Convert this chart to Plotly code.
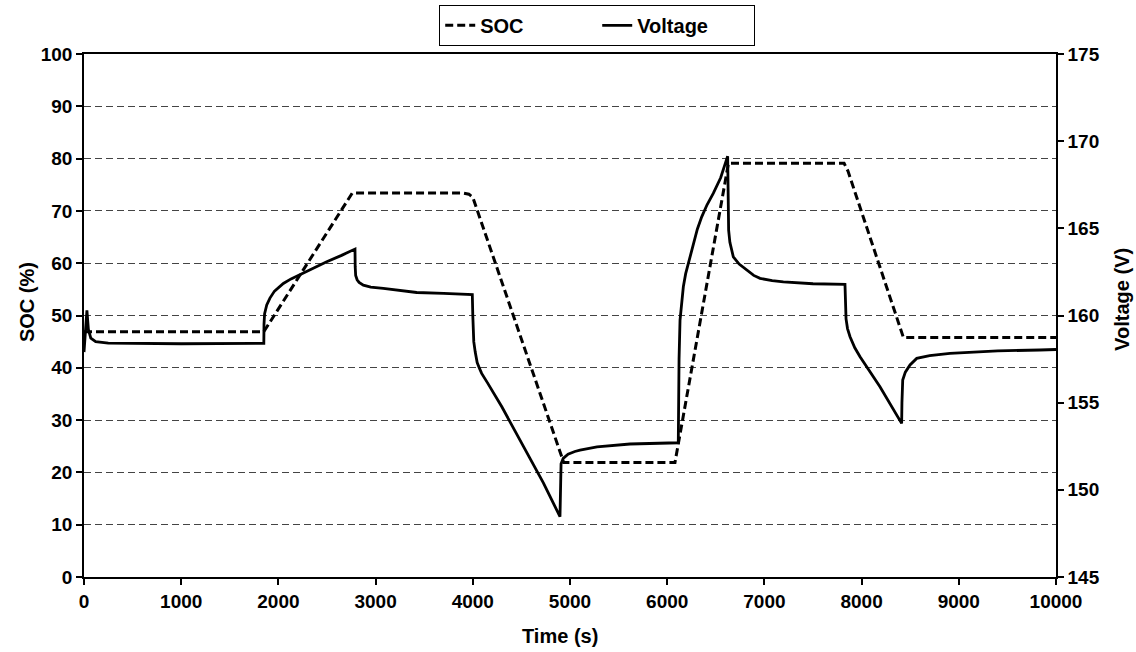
import plotly.graph_objects as go

# State of charge (%) over time (s)
soc_time = [0, 1850, 2760, 3900, 3960, 4000, 4935, 6080, 6630, 7820, 7860, 8430, 10000]
soc_value = [46.9, 46.9, 73.4, 73.4, 73.2, 72.6, 21.9, 21.9, 79.1, 79.1, 77.6, 45.8, 45.8]

# Pack voltage (V) over time (s)
volt_time = [0, 15, 30, 45, 70, 120, 250, 1000, 1845,
             1850, 1852, 1858, 1880, 1913, 1960, 2051, 2130, 2222, 2350, 2497, 2650, 2788,
             2790, 2795, 2810, 2830, 2874, 2950, 3079, 3250, 3423, 3700, 3988,
             3995, 4000, 4003, 4010, 4025, 4045, 4070, 4091, 4150, 4211, 4300, 4383,
             4550, 4726, 4897,
             4900, 4903, 4908, 4930, 4980, 5050, 5103, 5278, 5617, 6114,
             6117, 6122, 6132, 6148, 6166, 6190, 6217, 6245, 6269, 6310, 6355, 6410,
             6474, 6550, 6622,
             6624, 6627, 6632, 6645, 6680, 6740, 6818, 6890, 6955, 7080, 7195, 7500, 7829,
             7833, 7840, 7855, 7881, 7930, 7984, 8189, 8412,
             8415, 8418, 8423, 8450, 8498, 8567, 8700, 8909, 9400, 9835, 10000]
volt_value = [157.9, 159.0, 160.3, 159.2, 158.7, 158.5, 158.42, 158.38, 158.38,
              158.4, 159.5, 160.1, 160.6, 161.0, 161.4, 161.84, 162.1, 162.35, 162.72, 163.08, 163.45, 163.81,
              162.8, 162.3, 162.05, 161.9, 161.74, 161.63, 161.55, 161.42, 161.32, 161.27, 161.23,
              161.2, 160.0, 159.2, 158.5, 157.9, 157.3, 156.95, 156.68, 156.15, 155.6, 154.75, 153.9,
              152.2, 150.4, 148.46,
              150.0, 151.0, 151.5, 151.8, 152.05, 152.2, 152.28, 152.47, 152.63, 152.7,
              155.0, 157.5, 159.74, 160.8, 161.65, 162.4, 162.99, 163.6, 164.13, 164.95, 165.66, 166.35,
              167.0, 167.9, 169.14,
              167.5, 165.8, 164.9, 164.2, 163.37, 162.95, 162.6, 162.3, 162.13, 162.0, 161.93, 161.82, 161.78,
              160.5, 159.8, 159.25, 158.78, 158.15, 157.63, 155.91, 153.81,
              155.0, 155.7, 156.3, 156.75, 157.16, 157.54, 157.7, 157.83, 157.97, 158.02, 158.05]

x_ticks = list(range(0, 10001, 1000))
soc_ticks = list(range(0, 101, 10))
volt_ticks = list(range(145, 176, 5))

FONT = "Liberation Sans, Arial, sans-serif"

fig = go.Figure()
fig.add_trace(go.Scatter(
    x=soc_time, y=soc_value, name="SOC", mode="lines",
    line=dict(color="black", width=3, dash="8px,4px"),
    yaxis="y",
))
fig.add_trace(go.Scatter(
    x=volt_time, y=volt_value, name="Voltage", mode="lines",
    line=dict(color="black", width=2.8),
    yaxis="y2",
))

tick_font = dict(family=FONT, size=19, color="black", weight="bold")
title_font = dict(family=FONT, size=20, color="black", weight="bold")

# Axis titles placed as annotations so their position can be set exactly
fig.add_annotation(text="Time (s)", xref="paper", yref="paper", x=0.49, y=-0.113,
                   xanchor="center", yanchor="middle", showarrow=False, font=title_font)
fig.add_annotation(text="SOC (%)", xref="paper", yref="paper", x=-0.058, y=0.525,
                   xanchor="center", yanchor="middle", textangle=-90, showarrow=False,
                   font=title_font)
fig.add_annotation(text="Voltage (V)", xref="paper", yref="paper", x=1.068, y=0.53,
                   xanchor="center", yanchor="middle", textangle=-90, showarrow=False,
                   font=title_font)

fig.update_layout(
    width=1136, height=652,
    margin=dict(l=84, r=80, t=54, b=75, autoexpand=False),
    paper_bgcolor="white", plot_bgcolor="white",
    font=dict(family=FONT, color="black", size=19, weight="bold"),
    showlegend=True,
    legend=dict(
        orientation="h", x=0.528, xanchor="center", y=1.094, yanchor="top",
        bordercolor="black", borderwidth=1, bgcolor="white",
        font=dict(family=FONT, size=20, color="black", weight="bold"),
        entrywidth=112,
    ),
    xaxis=dict(
        range=[0, 10000], tickvals=x_ticks, ticktext=[str(v) for v in x_ticks],
        showgrid=False, zeroline=False,
        showline=True, linecolor="black", linewidth=1.5, mirror=True,
        ticks="outside", ticklen=6, tickcolor="black", tickwidth=1.5,
        tickfont=tick_font,
    ),
    yaxis=dict(
        range=[0, 100], tickvals=soc_ticks,
        showgrid=True, gridcolor="#444444", gridwidth=1, griddash="7px,4px",
        zeroline=False,
        showline=True, linecolor="black", linewidth=1.5,
        ticks="outside", ticklen=6, tickcolor="black", tickwidth=1.5,
        tickfont=tick_font,
    ),
    yaxis2=dict(
        range=[145, 175], tickvals=volt_ticks, overlaying="y", side="right",
        showgrid=False, zeroline=False,
        showline=True, linecolor="black", linewidth=1.5,
        ticks="outside", ticklen=6, tickcolor="black", tickwidth=1.5,
        tickfont=tick_font,
    ),
)

fig.write_html("out.html")
